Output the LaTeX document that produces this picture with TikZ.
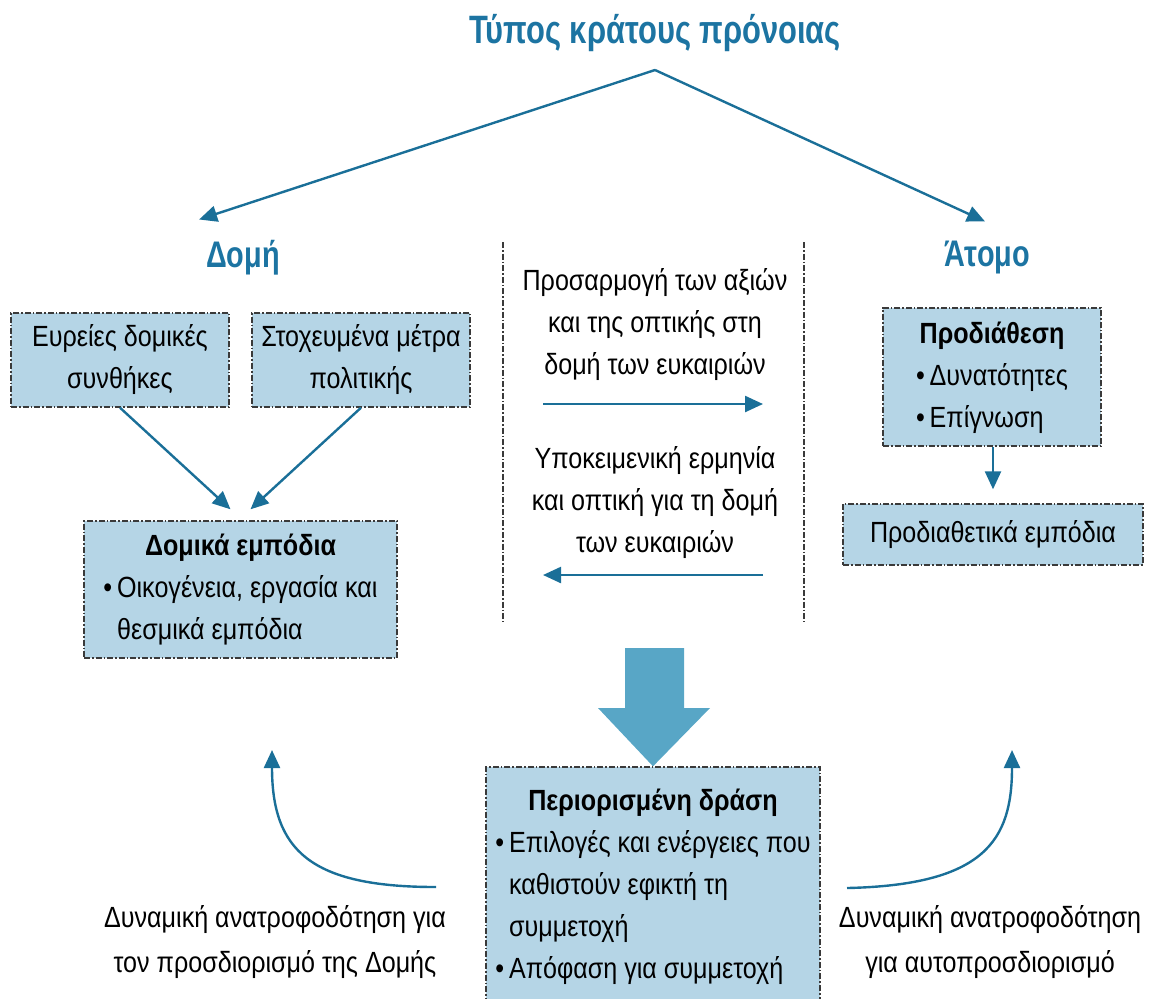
\documentclass[tikz,border=0pt]{standalone}
\usepackage{fontspec}
\setmainfont[FakeStretch=0.86]{Liberation Sans}
\newfontfamily\headfont[FakeStretch=0.78]{Liberation Sans}
\usetikzlibrary{arrows.meta}
\definecolor{box-blue}{HTML}{B5D5E6}
\definecolor{line-blue}{HTML}{1A6F98}
\definecolor{big-blue}{HTML}{58A6C6}
\definecolor{title-blue}{HTML}{1C74A2}
\definecolor{frame-grey}{HTML}{3A3A3A}
\tikzset{box/.style = {draw=frame-grey, fill=box-blue, line width=0.7pt, dash pattern=on 3pt off 1pt on 0.8pt off 1pt, align=center, inner sep=0pt}}
\tikzset{head/.style = {text=title-blue, font=\headfont\fontsize{18.5}{21}\selectfont\bfseries}}
\tikzset{txt/.style = {align=center, inner sep=0pt}}
\tikzset{sep/.style = {frame-grey, line width=0.6pt, dash pattern=on 3pt off 1pt on 0.8pt off 1pt}}
\tikzset{arr/.style = {line-blue, line width=1.2pt, -{Triangle[length=9pt, width=8pt]}}}
\newcommand{\hd}[1]{\multicolumn{1}{@{}c@{}}{\textbf{#1}}}
\newcommand{\bl}{\textbullet\,}
\newcommand{\ind}{\phantom{\textbullet\,}}

\begin{document}
\begin{tikzpicture}[x=0.5pt, y=-0.5pt,
  font=\fontsize{14.6}{21}\selectfont
]
\useasboundingbox (0,0) rectangle (1149,998);

\node[head, font=\headfont\fontsize{19.8}{22}\selectfont\bfseries] (title) at (655,33) {Τύπος κράτους πρόνοιας};
\coordinate (apex) at (655,70);
\node[head] (domi) at (243,258) {Δομή};
\node[head] (atomo) at (987,258) {Άτομο};

% left side
\node[box, minimum width=109pt, minimum height=47pt] (ba) at (120,360) {Ευρείες δομικές\\συνθήκες};
\node[box, minimum width=109pt, minimum height=47pt] (bb) at (361,360) {Στοχευμένα μέτρα\\πολιτικής};
\node[box, minimum width=156.5pt, minimum height=68.5pt] (bc) at (240.5,589.5) {%
  \begin{tabular}{@{}l@{}}
  \hd{Δομικά εμπόδια}\\
  \bl Οικογένεια, εργασία και\\
  \ind θεσμικά εμπόδια
  \end{tabular}};

% middle
\node[txt] (m1) at (655,325) {Προσαρμογή των αξιών\\και της οπτικής στη\\δομή των ευκαιριών};
\node[txt] (m2) at (655,503) {Υποκειμενική ερμηνία\\και οπτική για τη δομή\\των ευκαιριών};
\coordinate (r0) at (543,404);
\coordinate (r1) at (763,404);
\coordinate (l0) at (763,575);
\coordinate (l1) at (543,575);

% right side
\node[box, minimum width=109pt, minimum height=69pt] (bd) at (992,377) {%
  \begin{tabular}{@{}l@{}}
  \hd{Προδιάθεση}\\
  \bl Δυνατότητες\\
  \bl Επίγνωση
  \end{tabular}};
\node[box, minimum width=150pt, minimum height=30.5pt] (be) at (993,534.5) {Προδιαθετικά εμπόδια};

% bottom
\node[box, minimum width=167pt, minimum height=119pt] (bf) at (653,886) {%
  \begin{tabular}{@{}l@{}}
  \hd{Περιορισμένη δράση}\\
  \bl Επιλογές και ενέργειες που\\
  \ind καθιστούν εφικτή τη\\
  \ind συμμετοχή\\
  \bl Απόφαση για συμμετοχή
  \end{tabular}};
\coordinate (fl) at (436,887);
\coordinate (fr) at (847,888);
\node[txt, font=\fontsize{14.6}{22.5}\selectfont] (fbl) at (275,942) {Δυναμική ανατροφοδότηση για\\τον προσδιορισμό της Δομής};
\node[txt, font=\fontsize{14.6}{22.5}\selectfont] (fbr) at (990,942) {Δυναμική ανατροφοδότηση\\για αυτοπροσδιορισμό};

\draw[arr]  (apex) -- ([yshift=7pt]domi.north west);
\draw[arr]  (apex) -- ([xshift=-1pt, yshift=6.5pt]atomo.north);
\draw[arr]  (ba.south) -- ([xshift=-5pt, yshift=5.5pt]bc.north);
\draw[arr]  (bb.south) -- ([xshift=5pt, yshift=5.5pt]bc.north);
\draw[arr]  (r0) -- (r1);
\draw[arr]  (l0) -- (l1);
\draw[arr]  (bd.south -| be.north) -- ([yshift=7pt]be.north);
\draw[sep]  (503,242) -- (503,622);
\draw[sep]  (804,242) -- (804,622);
\fill[big-blue] (625,648) -- (684,648) -- (684,708) -- (710,708) -- (bf.north) -- (598,708) -- (625,708) -- cycle;
\draw[arr]  (fl) .. controls (310,887) and (272,850) .. (272,750);
\draw[arr]  (fr) .. controls (985,885) and (1012,840) .. (1012,750);

\end{tikzpicture}
\end{document}
